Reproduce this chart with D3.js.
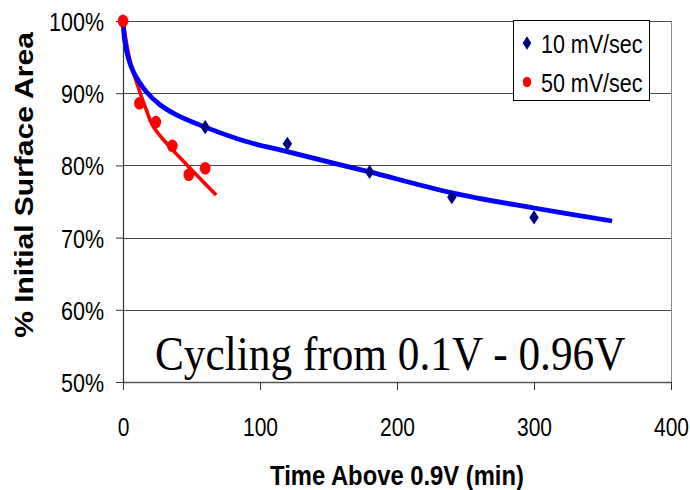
<!DOCTYPE html>
<html>
<head>
<meta charset="utf-8">
<script src="https://cdn.jsdelivr.net/npm/d3@7"></script>
<style>
  html, body { margin: 0; padding: 0; background: #fff; }
  svg { display: block; }
  text { font-family: Arial, "Liberation Sans", sans-serif; fill: #000; }
</style>
</head>
<body>
<svg id="chart" width="690" height="490"></svg>
<script>
// Measured points, minutes above 0.9 V vs. % of initial surface area
const slowTime = [0, 60, 120, 180, 240, 300];
const slowArea = [100, 85.3, 83.0, 79.1, 75.6, 72.8];
const fastTime = [0, 12, 24, 36, 48, 60];
const fastArea = [100, 88.6, 86.0, 82.7, 78.7, 79.6];

// Fitted trend curves, traced through their course
const slowFitTime = [0, 1.5, 4, 7, 10, 17, 27, 39, 60, 90, 120, 158, 180, 240, 300, 357];
const slowFitArea = [100, 97.0, 94.8, 93.2, 92.1, 90.2, 88.4, 87.0, 85.3, 83.3, 81.9, 80.1, 79.1, 76.2, 74.1, 72.3];
const fastFitTime = [0, 5, 11, 17, 22, 33, 46.5, 68];
const fastFitArea = [100, 94.6, 90.9, 87.7, 85.4, 82.8, 80.1, 75.9];

const seriesNames = ["10 mV/sec", "50 mV/sec"];
const xTicks = [0, 100, 200, 300, 400];
const yTicks = [50, 60, 70, 80, 90, 100];
const xTitle = "Time Above 0.9V (min)";
const yTitle = "% Initial Surface Area";
const note = "Cycling from 0.1V - 0.96V";

const svg = d3.select("#chart");
const x = d3.scaleLinear().domain([0, 400]).range([123, 671]);
const y = d3.scaleLinear().domain([50, 100]).range([382, 21]);
const SY = 1.24; // vertical stretch of the lettering

// gridlines
svg.append("g")
  .selectAll("line")
  .data(yTicks.filter(v => v > 50))
  .join("line")
  .attr("x1", x(0)).attr("x2", x(400))
  .attr("y1", d => Math.round(y(d)) + 0.5).attr("y2", d => Math.round(y(d)) + 0.5)
  .attr("stroke", "#4a4a4a").attr("stroke-width", 1);

// right frame edge
svg.append("line")
  .attr("x1", Math.round(x(400)) + 0.5).attr("x2", Math.round(x(400)) + 0.5)
  .attr("y1", y(100)).attr("y2", y(50))
  .attr("stroke", "#8a8a8a").attr("stroke-width", 1);

// y axis
const yAxis = svg.append("g")
  .attr("transform", `translate(${x(0)},0)`)
  .call(d3.axisLeft(y).tickValues(yTicks).tickSize(7).tickFormat(d => d + "%"));
yAxis.select(".domain").attr("stroke", "#333").attr("stroke-width", 1.2);
yAxis.selectAll(".tick line").attr("stroke", "#333");
yAxis.selectAll(".tick text")
  .attr("x", -19).attr("dy", null).attr("y", 9.5 / SY)
  .attr("transform", `scale(1,${SY})`)
  .style("font-size", "21.5px").style("font-family", "Arial, 'Liberation Sans', sans-serif")
  .attr("fill", "#000");

// x axis
const xAxis = svg.append("g")
  .attr("transform", `translate(0,${y(50)})`)
  .call(d3.axisBottom(x).tickValues(xTicks).tickSize(8).tickSizeOuter(0));
xAxis.select(".domain").attr("stroke", "#555").attr("stroke-width", 1.6);
xAxis.selectAll(".tick line").attr("stroke", "#333");
xAxis.selectAll(".tick text")
  .attr("dy", null).attr("y", 54 / SY)
  .attr("transform", `scale(1,${SY})`)
  .style("font-size", "21px").style("font-family", "Arial, 'Liberation Sans', sans-serif")
  .attr("fill", "#000");

// trend curves
const line = d3.line().x(d => x(d[0])).y(d => y(d[1])).curve(d3.curveCatmullRom.alpha(0.5));
svg.append("path")
  .datum(fastFitTime.map((t, i) => [t, fastFitArea[i]]))
  .attr("d", line).attr("fill", "none").attr("stroke", "#ff0000").attr("stroke-width", 3.6);
svg.append("path")
  .datum(slowFitTime.map((t, i) => [t, slowFitArea[i]]))
  .attr("d", line).attr("fill", "none").attr("stroke", "#0000ff").attr("stroke-width", 4.8);

// markers
const diamond = d3.symbol().type(d3.symbolDiamond).size(58);
svg.append("g")
  .selectAll("path")
  .data(slowTime.map((t, i) => [t, slowArea[i]]))
  .join("path")
  .attr("d", diamond)
  .attr("transform", d => `translate(${x(d[0])},${y(d[1])}) scale(1.15,1)`)
  .attr("fill", "#000080");
svg.append("g")
  .selectAll("ellipse")
  .data(fastTime.map((t, i) => [t, fastArea[i]]))
  .join("ellipse")
  .attr("cx", d => x(d[0])).attr("cy", d => y(d[1]))
  .attr("rx", 5.3).attr("ry", 6.3)
  .attr("fill", "#ff0000");

// legend
const lg = svg.append("g");
lg.append("rect")
  .attr("x", 513.5).attr("y", 20.5).attr("width", 136).attr("height", 80)
  .attr("fill", "#fff").attr("stroke", "#000").attr("stroke-width", 1);
lg.append("path").attr("d", diamond).attr("transform", "translate(527,43) scale(1.05,0.95)").attr("fill", "#000080");
lg.append("ellipse").attr("cx", 527).attr("cy", 82).attr("rx", 4.2).attr("ry", 5.2).attr("fill", "#ff0000");
[53, 92].forEach((by, i) => {
  lg.append("text")
    .attr("transform", `translate(541,${by}) scale(1,${SY})`)
    .style("font-size", "21.5px")
    .text(seriesNames[i]);
});

// annotation
svg.append("text")
  .attr("transform", "translate(155,370) scale(1,1.1)")
  .style("font-family", "'Times New Roman', 'Liberation Serif', serif")
  .style("font-size", "43.3px")
  .text(note);

// axis titles
svg.append("text")
  .attr("transform", `translate(397,485) scale(1,1.18)`)
  .attr("text-anchor", "middle")
  .style("font-weight", "bold").style("font-size", "23.8px")
  .text(xTitle);
svg.append("text")
  .attr("transform", "translate(33,185) rotate(-90) scale(1.2,1)")
  .attr("text-anchor", "middle")
  .style("font-weight", "bold").style("font-size", "25px")
  .text(yTitle);
</script>
</body>
</html>
